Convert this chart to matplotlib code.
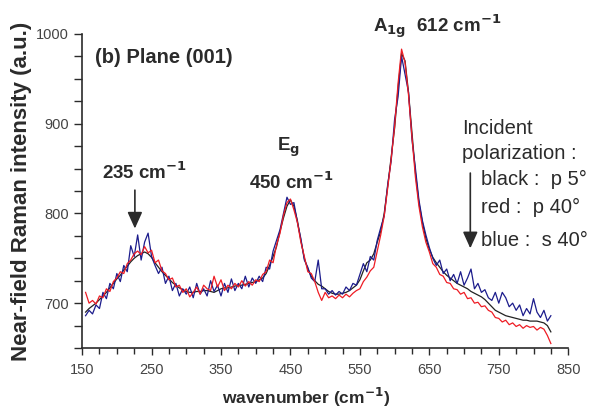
import numpy as np
import matplotlib
matplotlib.use('Agg')
import matplotlib.pyplot as plt
from matplotlib.ticker import MultipleLocator

plt.rcParams['font.family'] = ['Liberation Sans', 'DejaVu Sans']

# wavenumber grid (cm-1), read every 5 cm-1 off the figure
wavenumber = np.arange(155, 830, 5)

black_p5 = [690, 694, 697, 700, 704, 708, 712, 717, 722, 727,
            731, 737, 741, 746, 750, 753, 755, 757, 755, 751,
            745, 740, 735, 731, 727, 723, 720, 717, 715, 713,
            712, 712, 713, 713, 714, 714, 713, 712, 714, 716,
            717, 717, 718, 719, 720, 720, 721, 722, 723, 724,
            726, 728, 733, 742, 752, 763, 780, 795, 808, 815,
            808, 792, 770, 750, 738, 730, 725, 721, 719, 716,
            713, 711, 710, 710, 711, 712, 714, 717, 720, 726,
            736, 745, 748, 755, 768, 780, 800, 830, 862, 895,
            940, 978, 970, 935, 890, 845, 812, 790, 772, 760,
            751, 745, 740, 735, 731, 728, 725, 722, 720, 718,
            716, 713, 711, 709, 707, 704, 700, 696, 692, 690,
            688, 686, 685, 684, 683, 682, 681, 681, 680, 680,
            680, 679, 678, 675, 668]

red_p40 = [712, 700, 703, 699, 708, 706, 716, 713, 724, 728,
           735, 733, 744, 748, 755, 758, 754, 763, 756, 759,
           745, 748, 736, 733, 726, 728, 718, 720, 712, 716,
           707, 712, 718, 710, 720, 716, 714, 730, 718, 726,
           714, 720, 716, 722, 718, 725, 719, 724, 720, 726,
           724, 732, 735, 748, 745, 765, 778, 798, 812, 816,
           804, 790, 768, 752, 735, 733, 724, 712, 703, 712,
           706, 708, 705, 709, 706, 710, 707, 711, 714, 716,
           724, 729, 736, 740, 758, 776, 797, 828, 860, 897,
           945, 983, 968, 932, 885, 840, 808, 785, 768, 757,
           744, 740, 732, 730, 723, 722, 716, 715, 710, 712,
           705, 706, 700, 701, 696, 697, 692, 690, 684, 683,
           679, 681, 676, 678, 674, 676, 672, 675, 673, 674,
           670, 673, 671, 664, 655]

blue_s40 = [686, 692, 688, 698, 694, 712, 705, 722, 716, 733,
            724, 742, 735, 764, 752, 776, 748, 768, 778, 752,
            742, 733, 740, 722, 730, 714, 722, 708, 716, 710,
            718, 706, 722, 710, 716, 708, 725, 713, 720, 708,
            722, 712, 727, 714, 722, 716, 730, 718, 728, 722,
            730, 724, 740, 738, 758, 770, 782, 800, 818, 810,
            812, 790, 772, 748, 740, 728, 724, 748, 716, 716,
            710, 714, 709, 713, 710, 718, 714, 722, 720, 732,
            744, 735, 752, 748, 770, 784, 797, 832, 858, 905,
            930, 975, 955, 935, 882, 850, 815, 792, 776, 762,
            750, 742, 748, 733, 738, 725, 732, 722, 735, 720,
            728, 738, 716, 722, 712, 715, 706, 703, 712, 700,
            712, 706, 696, 700, 692, 698, 686, 694, 688, 705,
            690, 684, 692, 680, 686]

xticks = [150, 250, 350, 450, 550, 650, 750, 850]
yticks = [700, 800, 900, 1000]

txt = '#2b2b2b'

fig = plt.figure(figsize=(5.95, 4.08), dpi=100)
ax = fig.add_axes([0.138, 0.147, 0.817, 0.770])

ax.plot(wavenumber, black_p5, color='#222222', lw=0.9)
ax.plot(wavenumber, blue_s40, color='#1c1c8c', lw=0.9)
ax.plot(wavenumber, red_p40, color='#ee1c24', lw=0.9)

ax.set_xlim(150, 850)
ax.set_ylim(650, 1000)
ax.set_xticks(xticks)
ax.set_yticks(yticks)
ax.xaxis.set_minor_locator(MultipleLocator(25))
ax.yaxis.set_minor_locator(MultipleLocator(25))
ax.tick_params(which='both', direction='out', colors=txt, labelsize=10.5, width=1.0)
ax.tick_params(axis='both', labelcolor='#444444')
ax.tick_params(axis='y', which='both', length=6)
ax.tick_params(axis='x', which='major', length=5, pad=6)
ax.tick_params(axis='x', which='minor', length=4)
for s in ['top', 'right']:
    ax.spines[s].set_visible(False)
for s in ['left', 'bottom']:
    ax.spines[s].set_color(txt)
    ax.spines[s].set_linewidth(1.2)

ax.set_xlabel('wavenumber (cm$^{\\mathbf{-1}}$)', fontsize=12.5, fontweight='bold', color=txt)
ax.xaxis.set_label_coords(0.461, -0.12)
ax.set_ylabel('Near-field Raman intensity (a.u.)', fontsize=16, fontweight='bold', color=txt, labelpad=3)

bold = dict(fontsize=13.5, fontweight='bold', color=txt, va='center')
ax.text(169, 974, '(b) Plane (001)', fontsize=14.5, fontweight='bold', color=txt, va='center')
ax.text(240, 846, '235 cm$^{\\mathbf{-1}}$', ha='center', **bold)
ax.annotate('', xy=(226, 780), xytext=(226, 829),
            arrowprops=dict(arrowstyle='-|>,head_length=1.0,head_width=0.45', color=txt, lw=1.2))
ax.text(447, 874, 'E$_\\mathbf{g}$', ha='center', **bold)
ax.text(451, 835, '450 cm$^{\\mathbf{-1}}$', ha='center', **bold)
ax.text(661, 1008, 'A$_\\mathbf{1g}$  612 cm$^{\\mathbf{-1}}$', ha='center', clip_on=False, **bold)

reg = dict(fontsize=14.5, color=txt, va='center')
ax.text(697, 895, 'Incident', **reg)
ax.text(697, 867, 'polarization :', **reg)
ax.text(725, 838, 'black :  p 5°', **reg)
ax.text(725, 807, 'red :  p 40°', **reg)
ax.text(725, 770, 'blue :  s 40°', **reg)
ax.annotate('', xy=(709, 758), xytext=(709, 848),
            arrowprops=dict(arrowstyle='-|>,head_length=1.0,head_width=0.45', color=txt, lw=1.2))

fig.savefig('out.png', dpi=100)
